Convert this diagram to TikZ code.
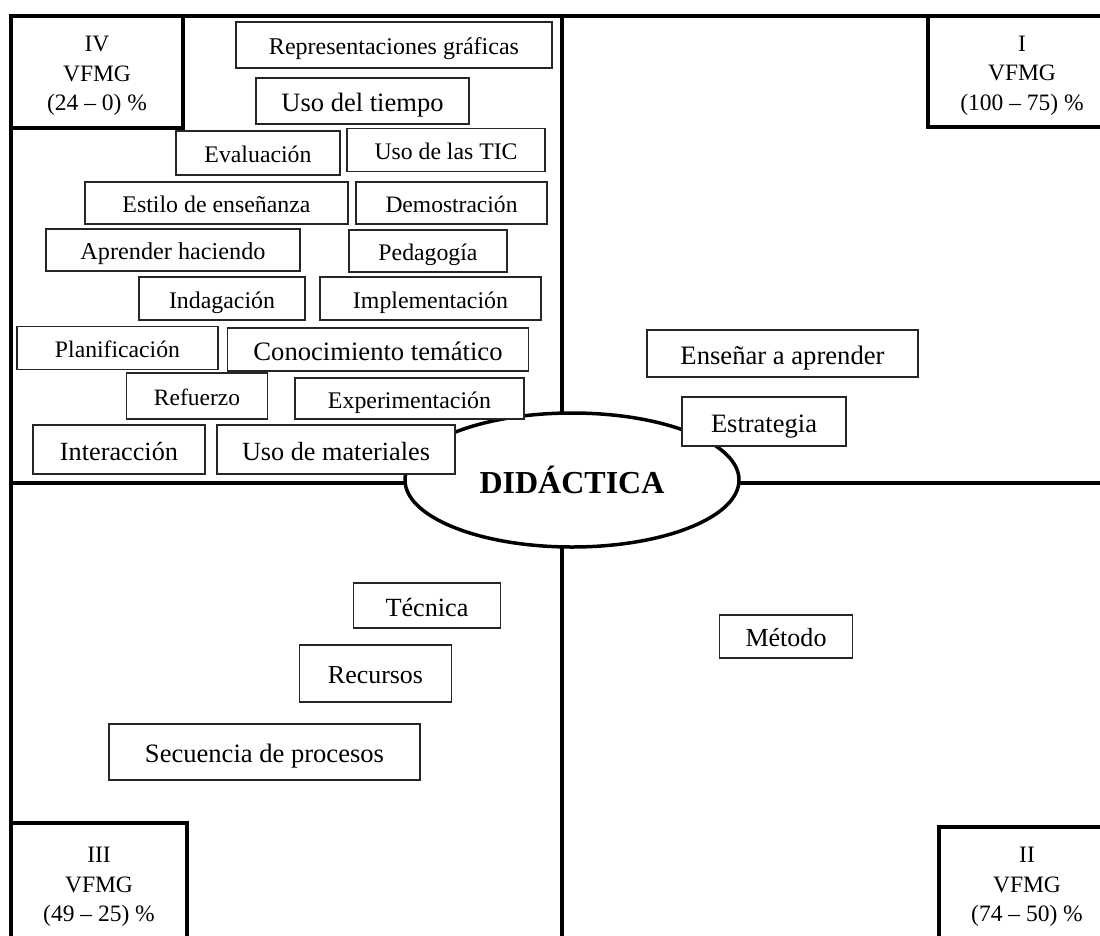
\documentclass[tikz,border=0pt]{standalone}
\usepackage{fontspec}
\setmainfont{Liberation Serif}
\usetikzlibrary{shapes.geometric}
\newcommand\tx[2]{\resizebox{#1pt}{!}{\rule[-2.5pt]{0pt}{13pt}#2}}
\begin{document}
\begin{tikzpicture}[x=1pt,y=-1pt,
  bx/.style={draw=black!85, fill=white, line width=1.3pt, inner sep=0pt, rectangle},
  qbox/.style={draw=black, line width=4pt, fill=white, align=center,
    font=\fontsize{23.5}{29.5}\selectfont, inner sep=0pt, rectangle},
  frameline/.style={line width=3.5pt, black},
]
\useasboundingbox (0,0) rectangle (1100,935);
\clip (0,0) rectangle (1100,935);
\fill[white] (0,0) rectangle (1100,935);

% frame coordinates
\coordinate (tl) at (11,16);
\coordinate (tr) at (1110,16);
\coordinate (bl) at (11,945);
\coordinate (mt) at (562,16);
\coordinate (mb) at (562,945);
\coordinate (ml) at (11,483);
\coordinate (mr) at (1110,483);

\draw[frameline] (tl) -- (tr);
\draw[frameline] (tl) -- (bl);
\draw[frameline] (mt) -- (mb);
\draw[frameline] (ml) -- (mr);

% quadrant labels
\node[qbox, minimum width=172pt, minimum height=112pt] (q4) at (97,72) {\rule{0pt}{23.5pt}IV\\VFMG\\(24 – 0) \%};
\node[qbox, minimum width=188pt, minimum height=111pt] (q1) at (1022,71.5) {\rule{0pt}{23.5pt}I\\VFMG\\(100 – 75) \%};
\node[qbox, minimum width=176pt, minimum height=122pt] (q3) at (99,884) {\rule{0pt}{21pt}III\\VFMG\\(49 – 25) \%};
\node[qbox, minimum width=176pt, minimum height=114pt] (q2) at (1027,884) {\rule{0pt}{21pt}II\\VFMG\\(74 – 50) \%};

% centre ellipse
\node[ellipse, draw=black, fill=white, line width=3.5pt, minimum width=334pt, minimum height=134pt, inner sep=0pt,
  font=\fontsize{32}{38}\selectfont\bfseries] (did) at (572,480) {DIDÁCTICA};

% quadrant IV boxes
\node[bx, minimum width=316pt, minimum height=46pt] (rep) at (394,45) {\tx{250}{Representaciones gráficas}};
\node[bx, minimum width=213pt, minimum height=46pt] (tiem) at (362.5,101) {\tx{162}{Uso del tiempo}};
\node[bx, minimum width=164pt, minimum height=44pt] (eval) at (258,153) {\tx{107}{Evaluación}};
\node[bx, minimum width=198pt, minimum height=43pt] (tic) at (446,150) {\tx{143}{Uso de las TIC}};
\node[bx, minimum width=263pt, minimum height=42pt] (esti) at (216.5,203) {\tx{188}{Estilo de enseñanza}};
\node[bx, minimum width=191pt, minimum height=42pt] (demo) at (451.5,203) {\tx{132}{Demostración}};
\node[bx, minimum width=254pt, minimum height=42pt] (apre) at (173,250) {\tx{185}{Aprender haciendo}};
\node[bx, minimum width=158pt, minimum height=42pt] (peda) at (428,251) {\tx{99}{Pedagogía}};
\node[bx, minimum width=166pt, minimum height=43pt] (inda) at (222,298.5) {\tx{106}{Indagación}};
\node[bx, minimum width=221pt, minimum height=43pt] (impl) at (430.5,298.5) {\tx{155}{Implementación}};
\node[bx, minimum width=201pt, minimum height=43pt] (plan) at (117.5,348) {\tx{125}{Planificación}};
\node[bx, minimum width=301pt, minimum height=43pt] (cono) at (378,349.5) {\tx{249}{Conocimiento temático}};
\node[bx, minimum width=141pt, minimum height=46pt] (refu) at (197,396) {\tx{86}{Refuerzo}};
\node[bx, minimum width=229pt, minimum height=41pt] (expe) at (409.5,398.5) {\tx{163}{Experimentación}};
\node[bx, minimum width=172pt, minimum height=49pt] (inte) at (119,449.5) {\tx{118}{Interacción}};
\node[bx, minimum width=238pt, minimum height=49pt] (usom) at (336,449.5) {\tx{188}{Uso de materiales}};

% quadrant I boxes
\node[bx, minimum width=271pt, minimum height=47pt] (ense) at (782.5,353.5) {\tx{204}{Enseñar a aprender}};
\node[bx, minimum width=164pt, minimum height=49pt] (estr) at (764,421.5) {\tx{106}{Estrategia}};

% quadrant III boxes
\node[bx, minimum width=147pt, minimum height=45pt] (tecn) at (427,605.5) {\tx{83}{Técnica}};
\node[bx, minimum width=152pt, minimum height=57pt] (recu) at (375.5,673.5) {\tx{95}{Recursos}};
\node[bx, minimum width=311pt, minimum height=56pt] (secu) at (264.5,752) {\tx{239}{Secuencia de procesos}};

% quadrant II boxes
\node[bx, minimum width=133pt, minimum height=43pt] (meto) at (786,636.5) {\tx{81}{Método}};
\end{tikzpicture}
\end{document}
